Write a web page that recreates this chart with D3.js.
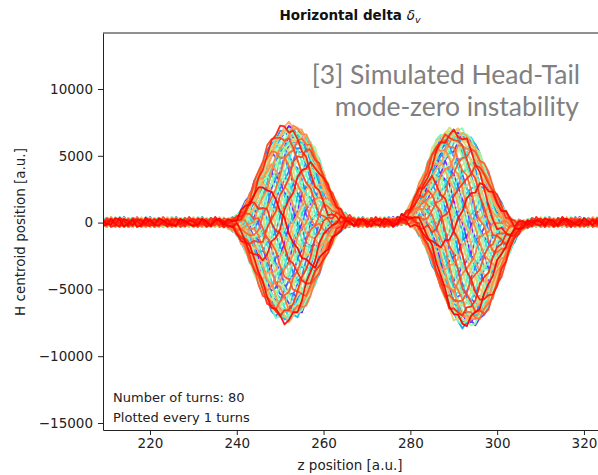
<!DOCTYPE html>
<html><head><meta charset="utf-8">
<script src="https://cdn.jsdelivr.net/npm/d3@7"></script>
<style>body{margin:0;background:#fff}svg{display:block}</style>
</head><body>
<svg id="c" width="598" height="475"></svg>
<script>
// ---- data ----
const nTurns = 80;
const zFirst = 208, zLast = 325;             // slice positions along the bunch
const xTicks = [220, 240, 260, 280, 300, 320];
const yTicks = [-15000, -10000, -5000, 0, 5000, 10000];
const bumpCenters = [252, 292];               // the two bunches
// mode shapes over u = -15..15 around each bunch centre
const modeEven = [0,-12,4,77,272,634,1167,1879,2775,3728,4698,5575,6286,6841,7176,7300,7176,6841,6286,5575,4698,3728,2775,1879,1167,634,272,77,4,-12,0];
const modeOdd  = [0,-109,-292,-579,-1061,-1633,-2189,-2690,-3100,-3276,-3217,-2900,-2371,-1684,-867,0,867,1684,2371,2900,3217,3276,3100,2690,2189,1633,1061,579,292,109,0];
const bump1Mean = [-28,-73,-119,-201,-292,-347,-384,-420,-420,-384,-329,-256,-192,-128,-64,0,64,128,192,256,329,384,420,420,384,347,292,201,119,73,28];
const bump2Mean = [83,215,344,580,832,971,1052,1129,1094,952,758,516,307,102,-97,-292,-481,-666,-845,-1018,-1214,-1350,-1426,-1391,-1250,-1111,-920,-626,-368,-223,-83];
// per-turn weights of the two mode shapes
const bump1In = [1.00,-0.08,-0.99,0.23,0.95,-0.38,-0.89,0.52,0.81,-0.65,
 -0.71,0.76,0.59,-0.85,-0.45,0.92,0.31,-0.97,-0.16,1.00,
 0.00,-1.00,0.16,0.97,-0.31,-0.92,0.45,0.85,-0.59,-0.76,
 0.71,0.65,-0.81,-0.52,0.89,0.38,-0.95,-0.23,0.99,0.08,
 -1.00,0.08,0.99,-0.23,-0.95,0.38,0.89,-0.52,-0.81,0.65,
 0.71,-0.76,-0.59,0.85,0.45,-0.92,-0.31,0.97,0.16,-1.00,
 0.00,1.00,-0.16,-0.97,0.31,0.92,-0.45,-0.85,0.59,0.76,
 -0.71,-0.65,0.81,0.52,-0.89,-0.38,0.95,0.23,-0.99,-0.08];
const bump1Quad = [0.00,1.00,-0.16,-0.97,0.31,0.92,-0.45,-0.85,0.59,0.76,
 -0.71,-0.65,0.81,0.52,-0.89,-0.38,0.95,0.23,-0.99,-0.08,
 1.00,-0.08,-0.99,0.23,0.95,-0.38,-0.89,0.52,0.81,-0.65,
 -0.71,0.76,0.59,-0.85,-0.45,0.92,0.31,-0.97,-0.16,1.00,
 0.00,-1.00,0.16,0.97,-0.31,-0.92,0.45,0.85,-0.59,-0.76,
 0.71,0.65,-0.81,-0.52,0.89,0.38,-0.95,-0.23,0.99,0.08,
 -1.00,0.08,0.99,-0.23,-0.95,0.38,0.89,-0.52,-0.81,0.65,
 0.71,-0.76,-0.59,0.85,0.45,-0.92,-0.31,0.97,0.16,-1.00];
const bump2In = [0.00,1.00,-0.16,-0.97,0.31,0.92,-0.45,-0.85,0.59,0.76,
 -0.71,-0.65,0.81,0.52,-0.89,-0.38,0.95,0.23,-0.99,-0.08,
 1.00,-0.08,-0.99,0.23,0.95,-0.38,-0.89,0.52,0.81,-0.65,
 -0.71,0.76,0.59,-0.85,-0.45,0.92,0.31,-0.97,-0.16,1.00,
 0.00,-1.00,0.16,0.97,-0.31,-0.92,0.45,0.85,-0.59,-0.76,
 0.71,0.65,-0.81,-0.52,0.89,0.38,-0.95,-0.23,0.99,0.08,
 -1.00,0.08,0.99,-0.23,-0.95,0.38,0.89,-0.52,-0.81,0.65,
 0.71,-0.76,-0.59,0.85,0.45,-0.92,-0.31,0.97,0.16,-1.00];
const bump2Quad = [-1.00,0.08,0.99,-0.23,-0.95,0.38,0.89,-0.52,-0.81,0.65,
 0.71,-0.76,-0.59,0.85,0.45,-0.92,-0.31,0.97,0.16,-1.00,
 0.00,1.00,-0.16,-0.97,0.31,0.92,-0.45,-0.85,0.59,0.76,
 -0.71,-0.65,0.81,0.52,-0.89,-0.38,0.95,0.23,-0.99,-0.08,
 1.00,-0.08,-0.99,0.23,0.95,-0.38,-0.89,0.52,0.81,-0.65,
 -0.71,0.76,0.59,-0.85,-0.45,0.92,0.31,-0.97,-0.16,1.00,
 0.00,-1.00,0.16,0.97,-0.31,-0.92,0.45,0.85,-0.59,-0.76,
 0.71,0.65,-0.81,-0.52,0.89,0.38,-0.95,-0.23,0.99,0.08];
const turnAmp = [0.97,0.93,1.00,0.95,0.90,0.98,0.94,1.01,0.92,0.96,
 0.99,0.91,0.95,1.00,0.93,0.97,0.89,0.96,1.02,0.94,
 0.92,0.99,0.95,0.90,0.98,1.01,0.93,0.96,0.91,0.99,
 0.95,1.00,0.92,0.97,0.94,0.90,1.01,0.96,0.93,0.98,
 0.94,0.99,0.91,0.97,1.00,0.95,0.92,0.98,0.96,0.93,
 1.01,0.94,0.97,0.90,0.99,0.95,1.02,0.93,0.96,0.98,
 0.92,1.00,0.95,0.97,0.94,0.99,0.91,1.01,0.96,0.93,
 0.98,0.95,1.02,0.94,0.99,0.97,1.01,0.95,1.00,0.98];
// slice-to-slice jitter seen on every trace (relative units)
const jitter = [0.31,-0.52,0.12,0.77,-0.18,-0.64,0.45,0.08,-0.91,0.36,0.59,-0.27,-0.05,0.82,-0.43,0.21,-0.71,0.04,0.66,-0.38,
 0.15,-0.85,0.49,0.27,-0.12,-0.56,0.93,-0.33,0.02,0.58,-0.76,0.19,0.41,-0.22,-0.68,0.71,-0.09,0.35,-0.47,0.88,
 -0.61,0.13,0.26,-0.95,0.54,-0.16,0.07,0.69,-0.41,-0.29,0.83,-0.57,0.18,0.39,-0.74,0.11,0.62,-0.24,-0.49,0.97,
 -0.36,0.05,0.47,-0.81,0.23,0.56,-0.14,-0.67,0.34,0.79,-0.51,0.09,-0.26,0.64,-0.88,0.42,0.16,-0.39,0.73,-0.06,
 -0.59,0.28,0.51,-0.83,0.03,0.67,-0.31,-0.19,0.86,-0.45,0.22,0.37,-0.72,0.14,-0.02,0.61,-0.93,0.44,0.25,-0.34,
 0.78,-0.63,0.06,0.53,-0.21,-0.47,0.89,-0.11,0.32,-0.69,0.17,0.75,-0.54,0.01,0.46,-0.37,0.24];

// ---- build the traces ----
const zs = d3.range(zFirst, zLast + 1);
const half = (modeEven.length - 1) / 2;
const means = [bump1Mean, bump2Mean], ins = [bump1In, bump2In], quads = [bump1Quad, bump2Quad];
const traces = d3.range(nTurns).map(t => zs.map((z, i) => {
  let v = 0;
  bumpCenters.forEach((c, b) => {
    const u = z - c + half;
    if (u >= 0 && u < modeEven.length)
      v += means[b][u] + turnAmp[t] * (ins[b][t] * modeEven[u] + quads[b][t] * modeOdd[u]);
  });
  const k = i + t * 37, n = jitter.length;
  v += (jitter[k % n] + jitter[(k + 1) % n]) * 380;
  return [z, v];
}));

// matplotlib "rainbow" colormap
function rainbow(x) {
  const r = Math.min(1, Math.abs(2 * x - 0.5)), g = Math.sin(Math.PI * x), b = Math.cos(Math.PI * x / 2);
  return d3.rgb(r * 255, g * 255, b * 255).toString();
}

// ---- layout ----
const L = 103, T = 33, R = 600, B = 430;
const svg = d3.select("#c");
const x = d3.scaleLinear().domain([209.17, 323.7]).range([L, R]);
const y = d3.scaleLinear().domain([-15524, 14192]).range([B, T]);

svg.append("defs").append("clipPath").attr("id", "clip")
  .append("rect").attr("x", L).attr("y", T).attr("width", R - L).attr("height", B - T);

const line = d3.line().x(d => x(d[0])).y(d => y(d[1]));
svg.append("g").attr("clip-path", "url(#clip)").selectAll("path").data(traces).join("path")
  .attr("d", line).attr("fill", "none")
  .attr("stroke", (d, i) => rainbow(i / (nTurns - 1)))
  .attr("stroke-width", 1.8).attr("stroke-linejoin", "round").attr("stroke-opacity", 0.95);

const font = "'DejaVu Sans', sans-serif";
const fmt = d3.format("d");
const ax = svg.append("g").attr("transform", `translate(0,${B})`)
  .call(d3.axisBottom(x).tickValues(xTicks).tickFormat(fmt).tickSize(5).tickPadding(3).tickSizeOuter(0));
const ay = svg.append("g").attr("transform", `translate(${L},0)`)
  .call(d3.axisLeft(y).tickValues(yTicks).tickFormat(fmt).tickSize(5).tickPadding(5).tickSizeOuter(0));
[ax, ay].forEach(g => {
  g.selectAll("text").attr("font-family", font).attr("font-size", 13.5).attr("fill", "#222");
  g.selectAll("line").attr("stroke", "#222");
  g.select(".domain").attr("stroke", "#222");
});
svg.append("line").attr("x1", L).attr("x2", R).attr("y1", T).attr("y2", T).attr("stroke", "#222");

// title
const title = svg.append("text").attr("x", 350).attr("y", 20).attr("text-anchor", "middle")
  .attr("font-family", font).attr("font-size", 13.5).attr("fill", "#111");
title.append("tspan").attr("font-weight", "bold").text("Horizontal delta ");
title.append("tspan").attr("font-style", "italic").text("δ");
title.append("tspan").attr("font-style", "italic").attr("font-size", 9.5).attr("dy", 3).text("v");

// axis labels
svg.append("text").attr("x", 350).attr("y", 470).attr("text-anchor", "middle")
  .attr("font-family", font).attr("font-size", 13.5).attr("fill", "#222").text("z position [a.u.]");
svg.append("text").attr("transform", "translate(25,232) rotate(-90)").attr("text-anchor", "middle")
  .attr("font-family", font).attr("font-size", 13.5).attr("fill", "#222").text("H centroid position [a.u.]");

// info box
svg.append("text").attr("x", 113).attr("y", 402).attr("font-family", font).attr("font-size", 13)
  .attr("fill", "#222").text("Number of turns: 80");
svg.append("text").attr("x", 113).attr("y", 422).attr("font-family", font).attr("font-size", 13)
  .attr("fill", "#222").text("Plotted every 1 turns");

// overlay annotation
const ann = svg.append("g").attr("font-family", "Lato, 'Open Sans', sans-serif").attr("font-size", 26.5)
  .attr("fill", "#808080").attr("text-anchor", "end");
ann.append("text").attr("x", 580).attr("y", 84).text("[3] Simulated Head-Tail");
ann.append("text").attr("x", 579).attr("y", 116).text("mode-zero instability");
</script>
</body></html>
